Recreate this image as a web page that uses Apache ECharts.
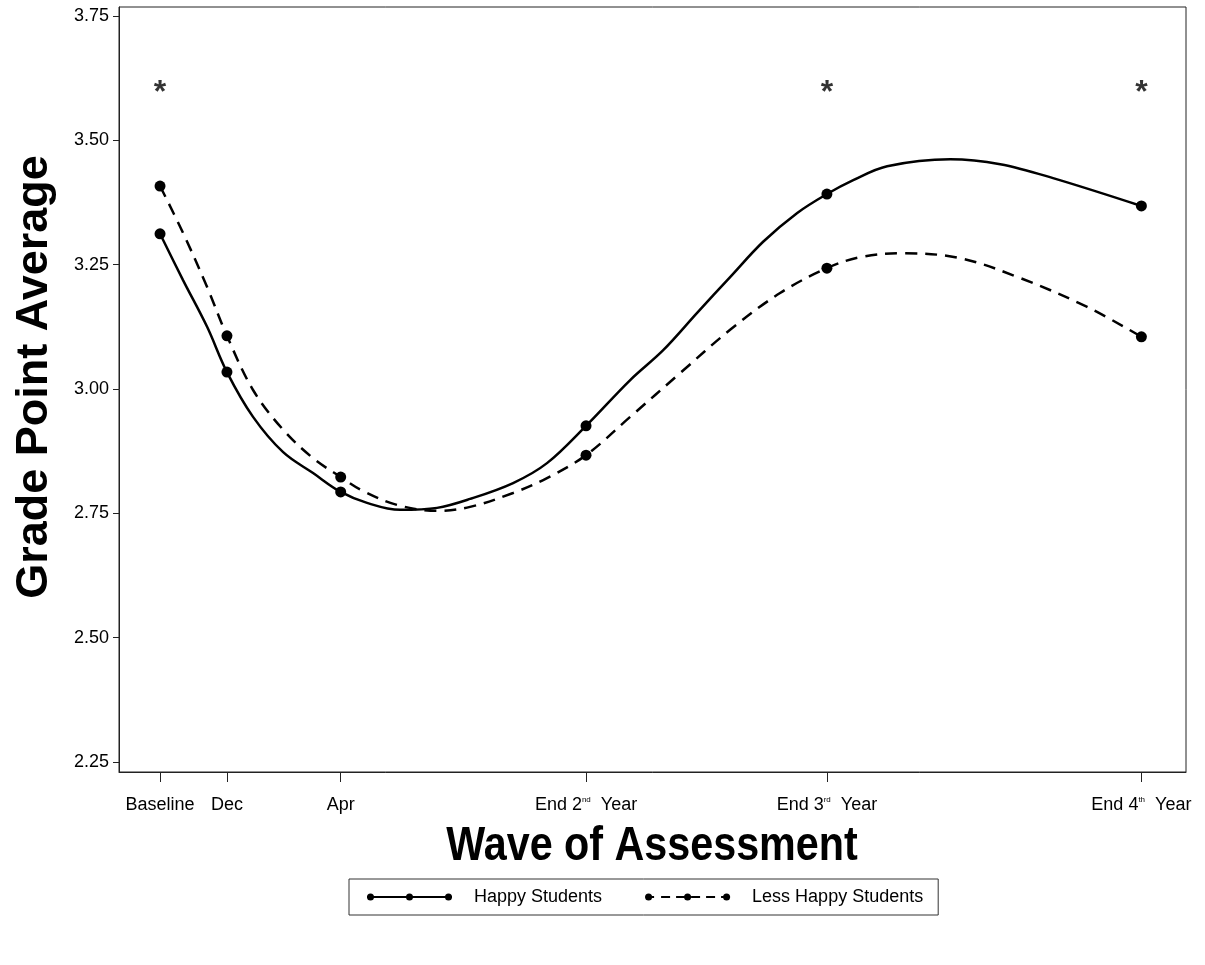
<!DOCTYPE html>
<html>
<head>
<meta charset="utf-8">
<script src="https://cdn.jsdelivr.net/npm/echarts@6/dist/echarts.min.js"></script>
<style>
  html, body { margin: 0; padding: 0; background: #fff; }
  #chart { width: 1205px; height: 965px; }
</style>
</head>
<body>
<div id="chart"></div>
<script>
// ---- Data ----
const waveLabels = ['Baseline', 'Dec', 'Apr', 'End 2nd Year', 'End 3rd Year', 'End 4th Year'];
const waveRich = ['Baseline', 'Dec', 'Apr', 'End 2{sup|nd}  Year', 'End 3{sup|rd}  Year', 'End 4{sup|th}  Year'];
const wavePos = [0, 3.0, 8.1, 19.1, 29.9, 44.0];

const happyGPA = [3.312, 3.034, 2.793, 2.926, 3.392, 3.368];
const lessHappyGPA = [3.408, 3.107, 2.823, 2.867, 3.243, 3.105];

// fitted curves as drawn in the picture
const happyCurveX = [0, 1.03, 2.11, 3.0, 4.17, 5.52, 6.86, 8.1, 9.28, 10.76, 12.42, 13.9, 15.83, 17.35, 19.1, 21.08, 22.56, 24.08, 25.56, 27.04, 28.57, 29.9, 31.08, 32.6, 35.43, 37.67, 40.04, 44.0];
const happyCurveY = [3.312, 3.219, 3.125, 3.034, 2.944, 2.873, 2.831, 2.793, 2.771, 2.757, 2.761, 2.779, 2.811, 2.851, 2.926, 3.018, 3.078, 3.153, 3.225, 3.296, 3.354, 3.392, 3.420, 3.448, 3.462, 3.452, 3.424, 3.368];

const lessCurveX = [0, 1.03, 2.11, 3.0, 4.17, 5.52, 6.86, 8.1, 9.1, 10.63, 12.42, 13.9, 15.83, 17.35, 19.1, 21.08, 23.32, 25.56, 27.8, 29.9, 31.39, 33.32, 35.87, 38.57, 41.57, 44.0];
const lessCurveY = [3.408, 3.314, 3.205, 3.107, 2.998, 2.918, 2.861, 2.823, 2.795, 2.767, 2.755, 2.763, 2.791, 2.821, 2.867, 2.944, 3.032, 3.119, 3.193, 3.243, 3.265, 3.273, 3.263, 3.223, 3.165, 3.105];

const sigWaves = [0, 29.9, 44.0];
const sigLevel = 3.605;

const yTicks = [2.25, 2.50, 2.75, 3.00, 3.25, 3.50, 3.75];

const seriesNames = ['Happy Students', 'Less Happy Students'];
const xTitle = 'Wave of Assessment';
const yTitle = 'Grade Point Average';

// ---- build ----
const zip = (xs, ys) => xs.map((x, i) => [x, ys[i]]);

const dot = cx => `M${cx - 3.5},3.5 A3.5,3.5 0 1,1 ${cx + 3.5},3.5 A3.5,3.5 0 1,1 ${cx - 3.5},3.5 Z `;
const seg = (a, b) => `M${a},2.5 L${b},2.5 L${b},4.5 L${a},4.5 Z `;
const solidIcon = 'path://' + seg(0, 85) + dot(3.5) + dot(42.5) + dot(81.5);
const dashIcon = 'path://' + seg(0, 9) + seg(16, 25) + seg(31, 40) + seg(46, 55) + seg(61, 70) + seg(76, 85) +
  dot(3.5) + dot(42.5) + dot(81.5);

const FONT = "'Liberation Sans', Arial, sans-serif";

const chart = echarts.init(document.getElementById('chart'), null, { renderer: 'canvas' });
chart.setOption({
  backgroundColor: '#fff',
  animation: false,
  grid: {
    left: 119, top: 7, width: 1067, height: 765,
    show: true, borderColor: '#222', borderWidth: 1, backgroundColor: 'transparent'
  },
  graphic: [
    {
      type: 'text', x: 652, y: 847, scaleX: 0.86, silent: true,
      style: { text: xTitle, fontFamily: FONT, fontWeight: 'bold', fontSize: 48, fill: '#000', align: 'center', verticalAlign: 'middle' }
    },
    {
      type: 'text', x: 35, y: 377, rotation: Math.PI / 2, silent: true,
      style: { text: yTitle, fontFamily: FONT, fontWeight: 'bold', fontSize: 45, fill: '#000', align: 'center', verticalAlign: 'middle' }
    }
  ],
  legend: {
    left: 349, top: 879,
    padding: [9, 15, 9, 18],
    borderColor: '#333', borderWidth: 1,
    itemWidth: 85, itemHeight: 7, itemGap: 43,
    textStyle: { fontFamily: FONT, fontSize: 18, color: '#000', padding: [0, 0, 0, 17] },
    data: [
      { name: seriesNames[0], icon: solidIcon },
      { name: seriesNames[1], icon: dashIcon }
    ]
  },
  xAxis: {
    type: 'value', min: -1.84, max: 46.0,
    axisLine: { show: true, onZero: false, lineStyle: { color: '#222', width: 1 } },
    axisTick: { show: true, length: 10, customValues: wavePos, lineStyle: { color: '#222' } },
    splitLine: { show: false },
    axisLabel: {
      customValues: wavePos, margin: 24,
      fontFamily: FONT, fontSize: 18, color: '#000',
      formatter: v => { const i = wavePos.indexOf(v); return i >= 0 ? waveRich[i] : ''; },
      rich: { sup: { fontFamily: FONT, fontSize: 8, color: '#000', verticalAlign: 'top', padding: [0, 0, 9, 0] } }
    }
  },
  yAxis: {
    type: 'value', min: 2.23, max: 3.768,
    axisLine: { show: true, onZero: false, lineStyle: { color: '#222', width: 1 } },
    axisTick: { show: true, length: 6, customValues: yTicks, lineStyle: { color: '#222' } },
    splitLine: { show: false },
    axisLabel: {
      customValues: yTicks, margin: 10,
      fontFamily: FONT, fontSize: 18, color: '#000',
      formatter: v => v.toFixed(2)
    }
  },
  series: [
    {
      name: seriesNames[0], type: 'line', data: zip(happyCurveX, happyCurveY),
      smooth: 0.35, showSymbol: false, color: '#000',
      lineStyle: { color: '#000', width: 2.5 }, z: 3
    },
    {
      name: seriesNames[1], type: 'line', data: zip(lessCurveX, lessCurveY),
      smooth: 0.35, showSymbol: false, color: '#000',
      lineStyle: { color: '#000', width: 2.5, type: [12, 8] }, z: 3
    },
    {
      name: seriesNames[0], type: 'scatter', data: zip(wavePos, happyGPA),
      symbol: 'circle', symbolSize: 11, itemStyle: { color: '#000', opacity: 1 }, z: 4
    },
    {
      name: seriesNames[1], type: 'scatter', data: zip(wavePos, lessHappyGPA),
      symbol: 'circle', symbolSize: 11, itemStyle: { color: '#000', opacity: 1 }, z: 4
    },
    {
      name: 'sig', type: 'scatter', data: sigWaves.map(x => [x, sigLevel]),
      symbol: 'circle', symbolSize: 1, itemStyle: { color: 'rgba(0,0,0,0)' },
      label: { show: true, position: 'inside', formatter: '*', fontFamily: FONT, fontWeight: 'bold', fontSize: 32, color: '#000', offset: [0, 5] },
      silent: true, z: 5
    }
  ]
});
</script>
</body>
</html>
